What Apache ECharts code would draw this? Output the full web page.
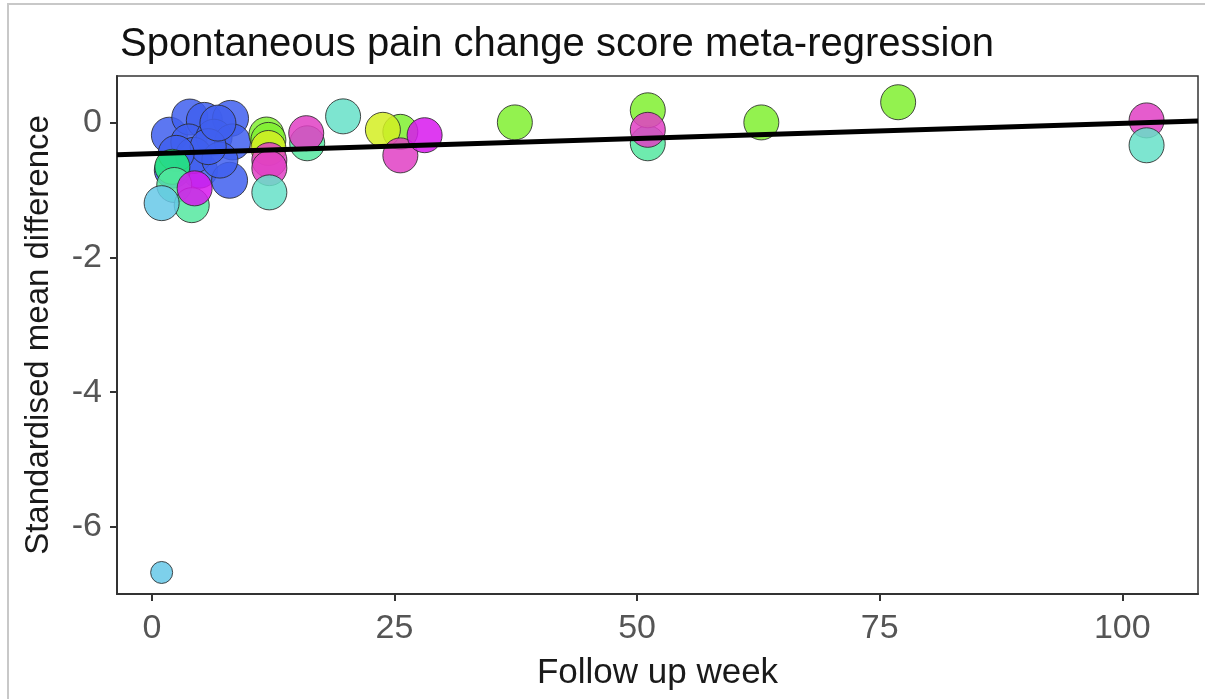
<!DOCTYPE html>
<html><head><meta charset="utf-8">
<script src="https://cdn.jsdelivr.net/npm/echarts@6/dist/echarts.min.js"></script>
<style>html,body{margin:0;padding:0;background:#fff}#c{width:1205px;height:699px}</style>
</head><body><div id="c"></div>
<script>
// ---- data (week, standardised mean difference) ----
const blueWeek   = [1.8, 3.9, 5.4, 8.1, 3.8, 6.4, 8.3, 4.9, 8.0, 2.1, 4.3, 7.0, 5.8, 2.5, 6.8];
const blueSmd    = [-0.18, 0.09, 0.04, 0.07, -0.28, -0.21, -0.28, -0.70, -0.85, -0.70, -0.48, -0.55, -0.35, -0.45, 0.0];
const springWeek = [2.1];
const springSmd  = [-0.65];
const mintWeek   = [2.3, 4.1, 16.0, 51.1];
const mintSmd    = [-0.92, -1.22, -0.30, -0.30];
const skyWeek    = [1.0];
const skySmd     = [-1.19];
const skySmallWeek = [1.0];
const skySmallSmd  = [-6.68];
const limeWeek   = [11.8, 12.0, 25.6, 37.4, 51.1, 62.8, 76.9];
const limeSmd    = [-0.17, -0.25, -0.13, 0.01, 0.19, 0.01, 0.31];
const yellowWeek = [12.0, 23.8];
const yellowSmd  = [-0.37, -0.10];
const magentaWeek = [12.1, 12.1, 15.9, 25.6, 51.1, 102.5];
const magentaSmd  = [-0.55, -0.67, -0.15, -0.48, -0.10, 0.04];
const purpleWeek = [4.4, 28.1];
const purpleSmd  = [-0.97, -0.18];
const tealWeek   = [12.1, 19.7, 102.5];
const tealSmd    = [-1.03, 0.10, -0.33];
// fitted regression line end points
const lineWeek = [-3.6, 107.8];
const lineSmd  = [-0.47, 0.03];
// tick labels
const xTicks = [0, 25, 50, 75, 100];
const yTicks = [-6, -4, -2, 0];

const zip = (a, b) => a.map((v, i) => [v, b[i]]);
const pts = (name, w, s, color, size) => ({
  name, type: 'scatter', data: zip(w, s), symbolSize: size,
  itemStyle: { color, opacity: 0.85, borderColor: '#2a2a2a', borderWidth: 1 }, z: 2
});

const chart = echarts.init(document.getElementById('c'));
const font = 'Liberation Sans, Arial, sans-serif';
chart.setOption({
  animation: false,
  backgroundColor: '#fff',
  title: { text: 'Spontaneous pain change score meta-regression', left: 115, top: 20,
    textStyle: { fontFamily: font, fontSize: 40, fontWeight: 'normal', color: '#111' } },
  graphic: [{ type: 'rect', shape: { x: 8, y: 4, width: 1300, height: 800 },
    style: { fill: 'none', stroke: '#c8c8c8', lineWidth: 2 }, silent: true, z: -10 }],
  grid: { left: 117, right: 7, top: 76, bottom: 105, show: true, borderColor: '#333', borderWidth: 1.5, backgroundColor: 'transparent' },
  xAxis: {
    type: 'value', min: -3.6, max: 107.8,
    name: 'Follow up week', nameLocation: 'middle', nameGap: 62,
    nameTextStyle: { fontFamily: font, fontSize: 35, color: '#1a1a1a' },
    axisLine: { show: true, onZero: false, lineStyle: { color: '#333', width: 2 } },
    axisTick: { show: true, length: 7, customValues: xTicks, lineStyle: { color: '#333', width: 2 } },
    axisLabel: { customValues: xTicks, margin: 18, fontFamily: font, fontSize: 34, color: '#555' },
    splitLine: { show: false }
  },
  yAxis: {
    type: 'value', min: -7.0, max: 0.7,
    name: 'Standardised mean difference', nameLocation: 'middle', nameGap: 62,
    nameTextStyle: { fontFamily: font, fontSize: 33, color: '#1a1a1a' },
    axisLine: { show: true, onZero: false, lineStyle: { color: '#333', width: 2 } },
    axisTick: { show: true, length: 7, customValues: yTicks, lineStyle: { color: '#333', width: 2 } },
    axisLabel: { customValues: yTicks, margin: 15, fontFamily: font, fontSize: 34, color: '#555' },
    splitLine: { show: false }
  },
  series: [
    pts('blue', blueWeek, blueSmd, '#3f5fee', 36),
    pts('spring', springWeek, springSmd, '#22ee77', 35),
    pts('mint', mintWeek, mintSmd, '#55e8a0', 35),
    pts('sky', skyWeek, skySmd, '#66c8e8', 35),
    pts('skySmall', skySmallWeek, skySmallSmd, '#66c8e8', 22),
    pts('lime', limeWeek, limeSmd, '#80f030', 35),
    pts('yellow', yellowWeek, yellowSmd, '#d4ee22', 35),
    pts('magenta', magentaWeek, magentaSmd, '#e040c4', 35),
    pts('purple', purpleWeek, purpleSmd, '#d818ee', 35),
    pts('teal', tealWeek, tealSmd, '#66e0c8', 35),
    { name: 'fit', type: 'line', data: zip(lineWeek, lineSmd), symbol: 'none', z: 5,
      lineStyle: { color: '#000', width: 5 } }
  ]
});
</script></body></html>
